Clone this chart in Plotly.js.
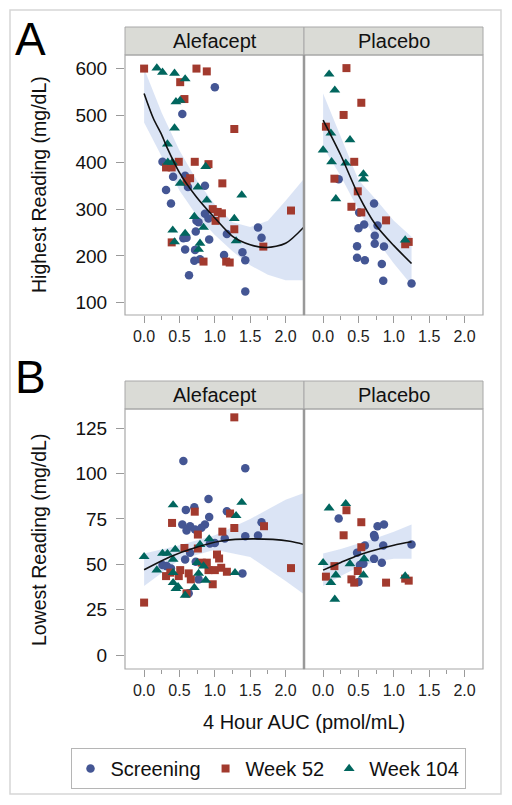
<!DOCTYPE html>
<html>
<head>
<meta charset="utf-8">
<script src="https://cdn.plot.ly/plotly-3.0.1.min.js"></script>
<style>html,body{margin:0;padding:0;background:#fff;}#chart{width:512px;height:805px;}</style>
</head>
<body>
<div id="chart"></div>
<script>
// ---------- Data ----------
const panelNames = ["Alefacept", "Placebo"];
const seriesNames = ["Screening", "Week 52", "Week 104"];
const xTickVals = [0, 0.5, 1.0, 1.5, 2.0];
const yTicksA = [100, 200, 300, 400, 500, 600];
const yTicksB = [0, 25, 50, 75, 100, 125];

// Panel A (Highest Reading) - Alefacept
const aAleScrX = [1.0,0.54,0.26,0.41,0.58,0.62,0.31,0.86,0.38,0.86,0.91,0.74,0.77,0.73,1.17,1.61,1.66,0.555,0.60,0.92,0.58,0.72,1.13,1.39,1.43,0.71,0.79,0.635,1.43];
const aAleScrY = [560,503,401,369,371,347,341,350,312,290,280,275,272,252,247,261,239,238,239,235,214,213,202,208,191,190,193,159,124];
const aAleW52X = [0.0,0.74,0.886,0.51,0.57,1.275,0.49,0.716,0.91,0.31,0.39,0.65,0.60,1.106,0.97,1.04,1.10,1.01,2.076,1.275,0.39,1.685,0.84,1.16,1.21];
const aAleW52Y = [600,600,594,571,535,471,401,401,396,389,389,366,359,355,300,294,291,275,297,257,229,220,188,188,186];
const aAleW104X = [0.18,0.26,0.43,0.58,0.45,0.51,0.43,0.33,0.335,0.40,0.87,0.51,0.76,0.886,1.38,0.71,1.275,0.84,0.405,0.58,1.30,0.43,0.79,0.77];
const aAleW104Y = [601,592,590,578,529,532,473,439,400,400,391,355,347,319,330,284,280,261,255,248,232,230,227,214];
const aAleFitX = [0,0.13,0.25,0.32,0.5,0.74,1.0,1.25,1.5,1.73,2.0,2.26];
const aAleFitY = [547,494,458,433,378,326,281,242,224,218,227,262];
const aAleBandX = [0,0.25,0.5,0.75,1.0,1.25,1.5,1.75,2.0,2.26];
const aAleBandHi = [600,505,425,360,310,272,262,275,318,365];
const aAleBandLo = [485,412,340,285,245,210,180,160,148,148];

// Panel A - Placebo
const aPlaScrX = [0.22,0.72,0.51,0.77,0.58,0.50,0.73,0.73,0.86,0.48,0.48,0.59,0.83,0.85,1.25];
const aPlaScrY = [364,312,293,265,267,259,243,226,220,221,196,191,183,147,141];
const aPlaW52X = [0.33,0.54,0.29,0.04,0.44,0.16,0.49,0.40,0.54,0.89,1.16,1.21];
const aPlaW52Y = [601,527,501,476,401,365,338,305,293,276,225,230];
const aPlaW104X = [0.085,0.165,0.11,0.38,0.0,0.12,0.32,0.57,0.57,0.18,1.16];
const aPlaW104Y = [588,554,462,448,426,401,398,375,364,322,234];
const aPlaFitX = [0,0.25,0.5,0.75,1.0,1.25];
const aPlaFitY = [490,415,330,265,222,184];
const aPlaBandX = [0,0.25,0.5,0.75,1.0,1.25];
const aPlaBandHi = [547,455,362,320,275,241];
const aPlaBandLo = [433,370,298,235,184,138];

// Panel B (Lowest Reading) - Alefacept
const bAleScrX = [0.555,1.43,0.91,0.59,0.71,1.17,0.92,0.54,0.65,0.86,1.66,0.60,0.72,0.81,1.43,1.61,1.14,1.0,0.93,0.65,0.58,0.73,0.26,0.38,1.39,0.77,0.63,0.32];
const bAleScrY = [107,103,86,80,81.4,79.2,76.1,71.9,71,71.9,73.2,68.6,69.2,70.1,65.5,65.9,64.2,61.8,61.5,56.4,52.7,51.4,49.6,47.7,45,41.7,34,49];
const bAleW52X = [1.275,0.716,1.215,0.395,1.695,1.275,1.106,0.76,0.57,0.76,1.03,1.06,0.815,0.886,2.076,0.91,1.0,1.09,1.17,0.51,0.37,0.63,0.31,0.49,0.66,0.97,0.60,0.0];
const bAleW52Y = [131,79,78,72.8,71,70,68,66.4,59,58.7,55.4,53.2,50.9,50.9,47.9,46.8,46.8,48.1,45.9,46.8,45.4,45,43.5,43.5,41.7,39,34,28.9];
const bAleW104X = [0.41,1.38,1.30,0.0,0.26,0.33,0.44,0.79,0.92,0.41,0.18,0.41,0.77,0.84,1.285,0.87,0.41,0.48,0.71,0.45,0.58,0.75];
const bAleW104Y = [82.7,84.1,76.8,54.2,56,56,58.2,60.9,64,52.7,46.8,45.4,45,49,45.4,41.2,39.9,37.7,37.1,36.6,32.9,50.9];
const bAleFitX = [0,0.37,0.74,1.07,1.54,2.06,2.26];
const bAleFitY = [47,54.2,59.4,62.7,64,62.7,60.9];
const bAleBandX = [0,0.5,1.0,1.5,2.0,2.26];
const bAleBandHi = [56,60.5,66,75,85.6,89.3];
const bAleBandLo = [38,52.5,58,54,40.8,33.5];

// Panel B - Placebo
const bPlaScrX = [0.22,0.77,0.86,0.72,0.73,0.59,0.85,1.25,0.48,0.52,0.57,0.72,0.83,0.50];
const bPlaScrY = [75.2,71,71.9,66.2,64.9,60.4,60.4,60.9,56.4,49.6,50.3,53,50.9,40.2];
const bPlaW52X = [0.33,0.54,0.29,0.54,0.16,0.04,0.49,0.40,0.44,0.89,1.16,1.21];
const bPlaW52Y = [79.8,73.2,66,59.4,49,43.2,46.3,41.7,39.9,39.9,42.1,41];
const bPlaW104X = [0.085,0.32,0.0,0.38,0.58,0.18,0.11,0.57,0.165,1.16];
const bPlaW104Y = [81,83.4,50.9,50.3,53,44.1,39.9,44.1,30.7,43.5];
const bPlaFitX = [0,0.25,0.5,0.75,1.0,1.25];
const bPlaFitY = [46.8,51,55,58,60.5,62.4];
const bPlaBandX = [0,0.25,0.5,0.75,1.0,1.25];
const bPlaBandHi = [56,58.5,61.5,64.5,68,72];
const bPlaBandLo = [38,43.5,48.5,51.5,53,53];

// ---------- Styling ----------
const W = 512, H = 805;
const FONT = "Liberation Sans, Arial, Helvetica, sans-serif";
const colors = ["#445694", "#A23A2E", "#01665E"];
const symbols = ["circle", "square", "triangle-up"];
const sizes = [8.5, 8, 9.5];
const bandFill = "rgba(190,206,236,0.55)";
const frame = "#a8a8a8";

const px = v => v / W;
const py = v => 1 - v / H;

// subplot pixel boxes
const colL = [125, 304], colR = [304, 483];
const rowT = [55, 409], rowB = [315, 669];

const panels = [
  {ax: "", row: 0, col: 0, scr: [aAleScrX, aAleScrY], w52: [aAleW52X, aAleW52Y], w104: [aAleW104X, aAleW104Y], fit: [aAleFitX, aAleFitY], band: [aAleBandX, aAleBandHi, aAleBandLo]},
  {ax: "2", row: 0, col: 1, scr: [aPlaScrX, aPlaScrY], w52: [aPlaW52X, aPlaW52Y], w104: [aPlaW104X, aPlaW104Y], fit: [aPlaFitX, aPlaFitY], band: [aPlaBandX, aPlaBandHi, aPlaBandLo]},
  {ax: "3", row: 1, col: 0, scr: [bAleScrX, bAleScrY], w52: [bAleW52X, bAleW52Y], w104: [bAleW104X, bAleW104Y], fit: [bAleFitX, bAleFitY], band: [bAleBandX, bAleBandHi, bAleBandLo]},
  {ax: "4", row: 1, col: 1, scr: [bPlaScrX, bPlaScrY], w52: [bPlaW52X, bPlaW52Y], w104: [bPlaW104X, bPlaW104Y], fit: [bPlaFitX, bPlaFitY], band: [bPlaBandX, bPlaBandHi, bPlaBandLo]}
];

const traces = [];
panels.forEach((p, pi) => {
  const xa = "x" + p.ax, ya = "y" + p.ax;
  const [bx, bhi, blo] = p.band;
  traces.push({
    type: "scatter", mode: "lines", xaxis: xa, yaxis: ya,
    x: bx.concat(bx.slice().reverse()),
    y: bhi.concat(blo.slice().reverse()),
    fill: "toself", fillcolor: bandFill, line: {width: 0}, showlegend: false, hoverinfo: "skip"
  });
  [p.scr, p.w52, p.w104].forEach((s, si) => {
    traces.push({
      type: "scatter", mode: "markers", xaxis: xa, yaxis: ya,
      x: s[0], y: s[1], name: seriesNames[si],
      legendgroup: seriesNames[si], showlegend: pi === 0,
      marker: {color: colors[si], symbol: symbols[si], size: sizes[si], line: {width: 0}}
    });
  });
  traces.push({
    type: "scatter", mode: "lines", xaxis: xa, yaxis: ya,
    x: p.fit[0], y: p.fit[1], line: {color: "#111", width: 1.6, shape: "spline", smoothing: 0.8},
    showlegend: false, hoverinfo: "skip"
  });
});

function xAxis(col, row) {
  return {
    domain: [px(colL[col]), px(colR[col])],
    anchor: "y" + (row * 2 + col === 0 ? "" : (row * 2 + col + 1)),
    range: [-0.27, 2.26],
    tickmode: "array", tickvals: xTickVals,
    ticktext: xTickVals.map(v => v.toFixed(1)),
    ticks: "outside", ticklen: 7, tickcolor: "#9a9a9a", tickwidth: 1,
    minor: {tickmode: "array", tickvals: [0.25, 0.75, 1.25, 1.75], ticks: "outside", ticklen: 4, tickcolor: "#9a9a9a"},
    showgrid: false, zeroline: false, showline: false,
    tickfont: {family: FONT, size: 16, color: "#222"},
    fixedrange: true
  };
}
function yAxis(col, row) {
  const idx = row * 2 + col;
  const ax = {
    domain: [py(rowB[row]), py(rowT[row])],
    anchor: "x" + (idx === 0 ? "" : (idx + 1)),
    range: row === 0 ? [74, 629] : [-7.7, 135.6],
    tickmode: "array", tickvals: row === 0 ? yTicksA : yTicksB,
    showgrid: false, zeroline: false, showline: false,
    tickfont: {family: FONT, size: 19, color: "#111"},
    fixedrange: true
  };
  if (col === 0) {
    ax.ticks = "outside"; ax.ticklen = 8; ax.tickcolor = "#9a9a9a"; ax.ticklabelstandoff = 5;
  } else {
    ax.showticklabels = false; ax.ticks = "";
  }
  return ax;
}

const shapes = [];
const annotations = [];
// outer frame
shapes.push({type: "rect", xref: "paper", yref: "paper", x0: px(10), x1: px(501), y0: py(794), y1: py(10), line: {color: "#d6d6d6", width: 1.5}});
for (let r = 0; r < 2; r++) {
  const stripTop = r === 0 ? 27 : 381;
  for (let c = 0; c < 2; c++) {
    shapes.push({type: "rect", xref: "paper", yref: "paper", x0: px(colL[c]), x1: px(colR[c]), y0: py(rowT[r]), y1: py(stripTop), fillcolor: "#dadbd6", line: {color: frame, width: 1}, layer: "below"});
    shapes.push({type: "rect", xref: "paper", yref: "paper", x0: px(colL[c]), x1: px(colR[c]), y0: py(rowB[r]), y1: py(rowT[r]), line: {color: frame, width: 1.2}});
    annotations.push({xref: "paper", yref: "paper", x: px((colL[c] + colR[c]) / 2), y: py((stripTop + rowT[r]) / 2), text: panelNames[c], showarrow: false, font: {family: FONT, size: 20, color: "#111"}, xanchor: "center", yanchor: "middle"});
  }
  shapes.push({type: "line", xref: "paper", yref: "paper", x0: px(304), x1: px(304), y0: py(rowB[r]), y1: py(rowT[r]), line: {color: "#999", width: 2.5}});
}
annotations.push({xref: "paper", yref: "paper", x: px(30), y: py(39), text: "A", showarrow: false, font: {family: FONT, size: 46, color: "#000"}, xanchor: "center", yanchor: "middle"});
annotations.push({xref: "paper", yref: "paper", x: px(30), y: py(377), text: "B", showarrow: false, font: {family: FONT, size: 46, color: "#000"}, xanchor: "center", yanchor: "middle"});
annotations.push({xref: "paper", yref: "paper", x: px(39), y: py(185), text: "Highest Reading (mg/dL)", textangle: -90, showarrow: false, font: {family: FONT, size: 19.5, color: "#111"}, xanchor: "center", yanchor: "middle"});
annotations.push({xref: "paper", yref: "paper", x: px(39), y: py(540), text: "Lowest Reading (mg/dL)", textangle: -90, showarrow: false, font: {family: FONT, size: 19.5, color: "#111"}, xanchor: "center", yanchor: "middle"});
annotations.push({xref: "paper", yref: "paper", x: px(304), y: py(722), text: "4 Hour AUC (pmol/mL)", showarrow: false, font: {family: FONT, size: 20, color: "#111"}, xanchor: "center", yanchor: "middle"});

const layout = {
  width: W, height: H,
  margin: {l: 0, r: 0, t: 0, b: 0},
  paper_bgcolor: "#fff", plot_bgcolor: "rgba(0,0,0,0)",
  font: {family: FONT, color: "#111"},
  xaxis: xAxis(0, 0), xaxis2: xAxis(1, 0), xaxis3: xAxis(0, 1), xaxis4: xAxis(1, 1),
  yaxis: yAxis(0, 0), yaxis2: yAxis(1, 0), yaxis3: yAxis(0, 1), yaxis4: yAxis(1, 1),
  shapes: shapes, annotations: annotations,
  showlegend: true,
  legend: {
    orientation: "h", x: px(268), xanchor: "center", y: py(748), yanchor: "top",
    bordercolor: "#b5b5b5", borderwidth: 1, bgcolor: "#fff",
    font: {family: FONT, size: 20, color: "#111"},
    itemwidth: 30, tracegroupgap: 0
  }
};

Plotly.newPlot("chart", traces, layout, {displayModeBar: false, staticPlot: true});
</script>
</body>
</html>
